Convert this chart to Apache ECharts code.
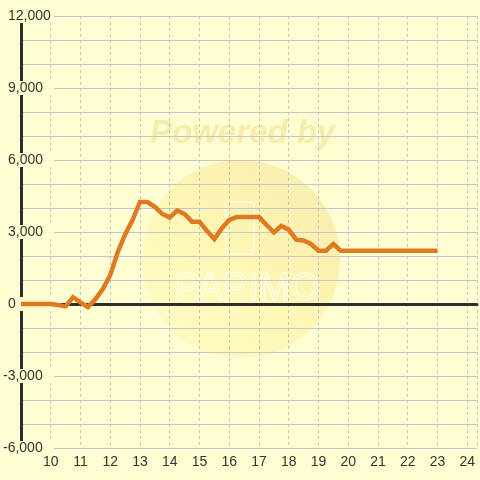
<!DOCTYPE html>
<html>
<head>
<meta charset="utf-8">
<script src="https://cdn.jsdelivr.net/npm/echarts@6/dist/echarts.min.js"></script>
<style>
html,body{margin:0;padding:0;background:#fefed2;}
#chart{width:480px;height:480px;}
</style>
</head>
<body>
<div id="chart"></div>
<script>
// Time of day (hours)
var hours = [9.00,9.25,9.50,9.75,10.00,10.25,10.50,10.75,11.00,11.25,11.50,11.75,
  12.00,12.25,12.50,12.75,13.00,13.25,13.50,13.75,14.00,14.25,14.50,14.75,
  15.00,15.25,15.50,15.75,16.00,16.25,16.50,16.75,17.00,17.25,17.50,17.75,
  18.00,18.25,18.50,18.75,19.00,19.25,19.50,19.75,20.00,20.25,20.50,20.75,
  21.00,21.25,21.50,21.75,22.00,22.25,22.50,22.75,23.00];
var values = [0,0,0,0,0,-40,-100,280,70,-130,200,620,
  1200,2150,2900,3500,4250,4250,4050,3750,3600,3900,3750,3430,
  3430,3050,2700,3150,3500,3620,3620,3620,3620,3300,2980,3250,
  3100,2680,2650,2500,2220,2220,2500,2220,2220,2220,2220,2220,
  2220,2220,2220,2220,2220,2220,2220,2220,2220];
var xTicks = [10,11,12,13,14,15,16,17,18,19,20,21,22,23,24];
var yTicksPos = [0,3000,6000,9000,12000];
var yTicksNeg = [-6000,-3000];

var bg = '#fefed2';
var font = '"Liberation Sans", Arial, sans-serif';
var chart = echarts.init(document.getElementById('chart'));
var pts = hours.map(function(h,i){return [h, values[i]];});

function labelAxis(ticks, margin, width) {
  return {
    type:'value', min:-6000, max:12000, interval:1000, position:'left', z:5,
    axisLine:{show:false}, axisTick:{show:false}, splitLine:{show:false},
    axisLabel:{
      color:'#333', fontSize:14, fontFamily:font,
      align:'left', margin:margin, width:width, overflow:'none',
      backgroundColor:bg, lineHeight:14,
      formatter:function(v){
        return ticks.indexOf(v) >= 0 ? v.toLocaleString('en-US') : '';
      }
    }
  };
}

chart.setOption({
  backgroundColor: bg,
  animation: false,
  graphic: [
    {type:'circle', z:-10, shape:{cx:241, cy:259, r:99},
     style:{fill:new echarts.graphic.LinearGradient(1,0,0,1,[
       {offset:0,color:'rgba(238,222,150,0.6)'},
       {offset:0.5,color:'rgba(255,238,150,0.5)'},
       {offset:1,color:'rgba(255,250,180,0.4)'}])}},
    {type:'text', z:-10, left:150, top:117,
     style:{text:'Powered by', fill:'rgba(238,222,140,0.55)', font:'italic bold 33px ' + font}},
    {type:'rect', z:-10, shape:{x:226, y:202, width:28, height:52, r:3},
     style:{fill:'rgba(0,0,0,0)', stroke:'rgba(255,255,235,0.8)', lineWidth:1.5}},
    {type:'text', z:-10, left:174, top:270,
     style:{text:'PAPIMO', fill:'rgba(0,0,0,0)', stroke:'rgba(255,255,235,0.8)', lineWidth:1.5, font:'38px ' + font}}
  ],
  grid: {left:20, right:0, top:16, bottom:32, containLabel:false},
  xAxis: {
    type:'value', min:9, max:24.33, interval:1,
    axisLine:{show:true, onZero:true, lineStyle:{color:'#2e2e2e', width:3}},
    axisTick:{show:false},
    axisLabel:{
      color:'#333', fontSize:14, fontFamily:font, margin:7,
      formatter:function(v){ return xTicks.indexOf(v) >= 0 ? String(v) : ''; }
    },
    splitLine:{show:true, lineStyle:{color:'#c2c2c2', type:[3,3], width:1}}
  },
  yAxis: [
    {
      type:'value', min:-6000, max:12000, interval:1000, position:'left', z:0,
      axisLine:{show:true, onZero:false, lineStyle:{color:'#2e2e2e', width:3}},
      axisTick:{show:false},
      axisLabel:{show:false},
      splitLine:{show:true, lineStyle:{color:'#c6c6c9', width:1}}
    },
    labelAxis(yTicksPos, 13, 46),
    labelAxis(yTicksNeg, 18, 51)
  ],
  series: [{
    type:'line', data:pts, showSymbol:false, symbol:'none', yAxisIndex:0,
    lineStyle:{color:'#e07a22', width:4.5, join:'miter'},
    z:10
  }]
});
</script>
</body>
</html>
